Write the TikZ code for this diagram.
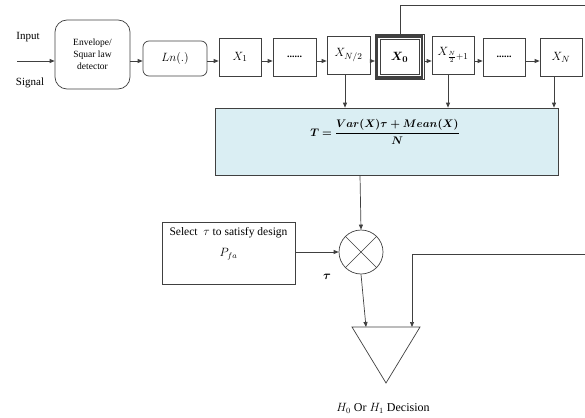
\documentclass[tikz,border=0pt]{standalone}
\usepackage{amsmath}
\usepackage{bm}
\usepackage{fontspec}
\setmainfont{Liberation Serif}
\usetikzlibrary{arrows.meta,calc}
\definecolor{lineclr}{HTML}{404040}
\definecolor{tfill}{HTML}{DAEEF3}
\begin{document}
\begin{tikzpicture}[x=1pt,y=-1pt,
  every node/.style={inner sep=0pt, font=\fontsize{11}{13}\selectfont},
  mfont/.style={font=\fontsize{13}{15}\selectfont},
  blk/.style={draw=lineclr, line width=0.7pt, minimum height=38pt, minimum width=42pt, mfont},
  rblk/.style={blk, rounded corners=#1},
  arr/.style={draw=lineclr, line width=0.7pt, -{Triangle[length=5pt,width=4pt]}},
  ln/.style={draw=lineclr, line width=0.7pt}]
\useasboundingbox (0,0) rectangle (585,417);
% top row
\node (inp) at (28,37) {Input};
\node (sig) at (30,83) {Signal};
\coordinate (src) at (17,61);
\node[rblk=12pt, minimum width=75pt, minimum height=69pt, align=center,
  font=\fontsize{9.5}{12}\selectfont] (env) at (92.5,54.5) {Envelope/\\Squar law\\detector};
\node[rblk=6pt, minimum width=64pt, minimum height=35pt] (lnb) at (175,58.5) {$Ln(.)$};
\node[blk] (x1) at (240,57) {$X_1$};
\node[blk, minimum width=43pt, font=\fontsize{10}{12}\selectfont] (d1) at (294.5,57) {\textbf{......}};
\node[blk, minimum width=43pt] (xn2) at (348.5,55) {$X_{N/2}$};
\node[blk, minimum width=39pt, minimum height=35pt] (x0) at (399.5,57) {$\bm{X_0}$};
\draw[lineclr, line width=2.4pt] ($(x0.north west)+(-2.6,-2.6)$) rectangle ($(x0.south east)+(2.6,2.6)$);
\draw[lineclr, line width=0.6pt] ($(x0.north west)+(-4.7,-4.7)$) coordinate (x0tl) rectangle ($(x0.south east)+(4.7,4.7)$) coordinate (x0br);
\node[blk] (xn21) at (453,55) {$X_{\frac{N}{2}+1}$};
\node[blk, font=\fontsize{10}{12}\selectfont] (d2) at (504,57) {\textbf{......}};
\node[blk] (xn) at (561,57) {$X_N$};
% horizontal arrows
\draw[arr] (src) -- (env.west |- src);
\draw[arr] (env.east |- src) -- (lnb.west |- src);
\draw[arr] (lnb.east |- src) -- (x1.west |- src);
\draw[arr] (x1.east |- src) -- (d1.west |- src);
\draw[arr] (d1.east |- src) -- (xn2.west |- src);
\draw[arr] (xn2.east |- src) -- (x0tl |- src);
\draw[arr] (x0br |- src) -- (xn21.west |- src);
\draw[arr] (xn21.east |- src) -- (d2.west |- src);
\draw[arr] (d2.east |- src) -- (xn.west |- src);
% top feedback line
\coordinate (topr) at (585,5);
\draw[ln] (400,0 |- x0tl) -- (400,0 |- topr) -- (topr);
% T box
\node[draw=lineclr, line width=0.7pt, fill=tfill, minimum width=343pt, minimum height=67pt] (T) at (386.5,141.5) {};
\node[font=\fontsize{10.5}{12}\selectfont] (eq) at (385,132) {$\bm{T=\dfrac{Var(X)\tau+Mean(X)}{N}}$};
\draw[arr] (345,0 |- xn2.south) -- (345,0 |- T.north);
\draw[arr] (448,0 |- xn21.south) -- (448,0 |- T.north);
\draw[arr] (554,0 |- xn.south) -- (554,0 |- T.north);
% multiplier
\node[draw=lineclr, line width=0.7pt, circle, minimum size=44pt] (mul) at (361,252) {};
\draw[ln, line width=0.6pt] (mul.north west) -- (mul.south east);
\draw[ln, line width=0.6pt] (mul.north east) -- (mul.south west);
\draw[arr] (360,0 |- T.south) -- (mul.north);
% select box
\node[draw=lineclr, line width=0.7pt, minimum width=133pt, minimum height=62pt] (sel) at (228.5,253) {};
\node[align=center, anchor=north, font=\fontsize{11.5}{21}\selectfont] (selt) at ($(sel.north)+(0,6)$) {Select\enspace$\tau$ to satisfy design\\$P_{fa}$};
\draw[arr] (sel.east |- mul) -- (mul.west);
\node[font=\fontsize{12}{13}\selectfont] (tau) at (327,277) {$\bm{\tau}$};
% comparator triangle
\coordinate (tl) at (352,327);
\coordinate (tr) at (420,327);
\coordinate (tb) at (386,383);
\draw[lineclr, line width=0.7pt] (tl) -- (tr) -- (tb) -- cycle;
\draw[arr] (mul.south) -- (366,0 |- tl);
\coordinate (rin) at (585,254);
\draw[ln] (rin) -- (412,0 |- rin);
\draw[arr] (412,0 |- rin) -- (412,0 |- tl);
\node[font=\fontsize{12}{14}\selectfont] (dec) at (383,408) {$H_0$ Or $H_1$ Decision};
\end{tikzpicture}
\end{document}
